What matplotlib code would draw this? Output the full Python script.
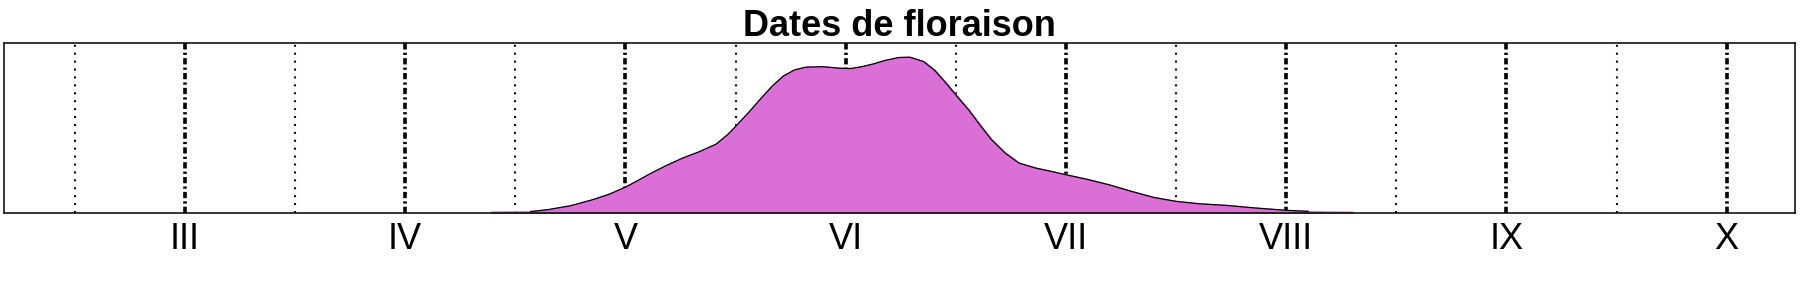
import matplotlib
matplotlib.use("Agg")
import matplotlib.pyplot as plt
import numpy as np

# month index (3 = March ... 10 = October)
month_ticks = [3, 4, 5, 6, 7, 8, 9, 10]
month_labels = ["III", "IV", "V", "VI", "VII", "VIII", "IX", "X"]
half_months = [2.5, 3.5, 4.5, 5.5, 6.5, 7.5, 8.5, 9.5]

# density of flowering dates (relative units)
dens_x = [4.39, 4.50, 4.57, 4.648, 4.75, 4.852, 4.928, 5.00, 5.055, 5.106, 5.183, 5.259,
          5.335, 5.412, 5.463, 5.50, 5.565, 5.616, 5.667, 5.717, 5.768, 5.819, 5.896,
          5.972, 6.023, 6.074, 6.125, 6.176, 6.24, 6.291, 6.354, 6.405, 6.456, 6.50,
          6.558, 6.609, 6.66, 6.724, 6.787, 6.864, 6.94, 7.00, 7.093, 7.195, 7.297,
          7.399, 7.50, 7.602, 7.73, 7.857, 8.00, 8.10, 8.20, 8.30]
dens_y = [0.005, 0.006, 0.007, 0.018, 0.041, 0.077, 0.110, 0.151, 0.189, 0.226, 0.277, 0.322,
          0.360, 0.405, 0.460, 0.509, 0.600, 0.676, 0.748, 0.807, 0.843, 0.859, 0.862,
          0.853, 0.851, 0.862, 0.878, 0.898, 0.916, 0.918, 0.892, 0.839, 0.764, 0.695,
          0.607, 0.519, 0.434, 0.352, 0.293, 0.263, 0.242, 0.224, 0.198, 0.165, 0.126,
          0.090, 0.067, 0.053, 0.043, 0.028, 0.014, 0.008, 0.005, 0.004]
line_range = (4.56, 8.10)

plt.rcParams['font.family'] = ['Liberation Sans', 'DejaVu Sans']
plt.rcParams['lines.scale_dashes'] = False

fig = plt.figure(figsize=(18, 3), dpi=100)
ax = fig.add_axes([4.3 / 1800, 1 - 212.7 / 300, (1795 - 4.3) / 1800, (212.7 - 43.3) / 300])

ax.set_xlim(2.18, 10.31)
ax.set_ylim(0, 1)

for hm in half_months:
    ax.axvline(hm, color='black', lw=1.5, linestyle=(0, (1.4, 4.3)), zorder=1)
for m in month_ticks:
    ax.axvline(m, color='black', lw=2.6, linestyle=(0, (4.5, 2.3, 1.6, 2.3)), zorder=1)

x = np.array(dens_x)
y = np.array(dens_y)
ax.fill_between(x, 0, y, facecolor='#DA70D6', edgecolor='#DA70D6', lw=1.5, zorder=2)
mask = (x >= line_range[0]) & (x <= line_range[1])
ax.plot(x[mask], y[mask], color='black', lw=0.9, zorder=3, solid_joinstyle='round')

ax.set_xticks(month_ticks)
ax.set_xticklabels(month_labels, fontsize=26)
ax.tick_params(axis='x', length=0, pad=6.5)
ax.set_yticks([])
for s in ax.spines.values():
    s.set_linewidth(1.1)
    s.set_zorder(5)

fig.text(899 / 1800, 1 - 36 / 300, "Dates de floraison", ha='center', va='baseline',
         fontsize=26, fontweight='bold')

fig.savefig("out.png", dpi=100, facecolor='white')
